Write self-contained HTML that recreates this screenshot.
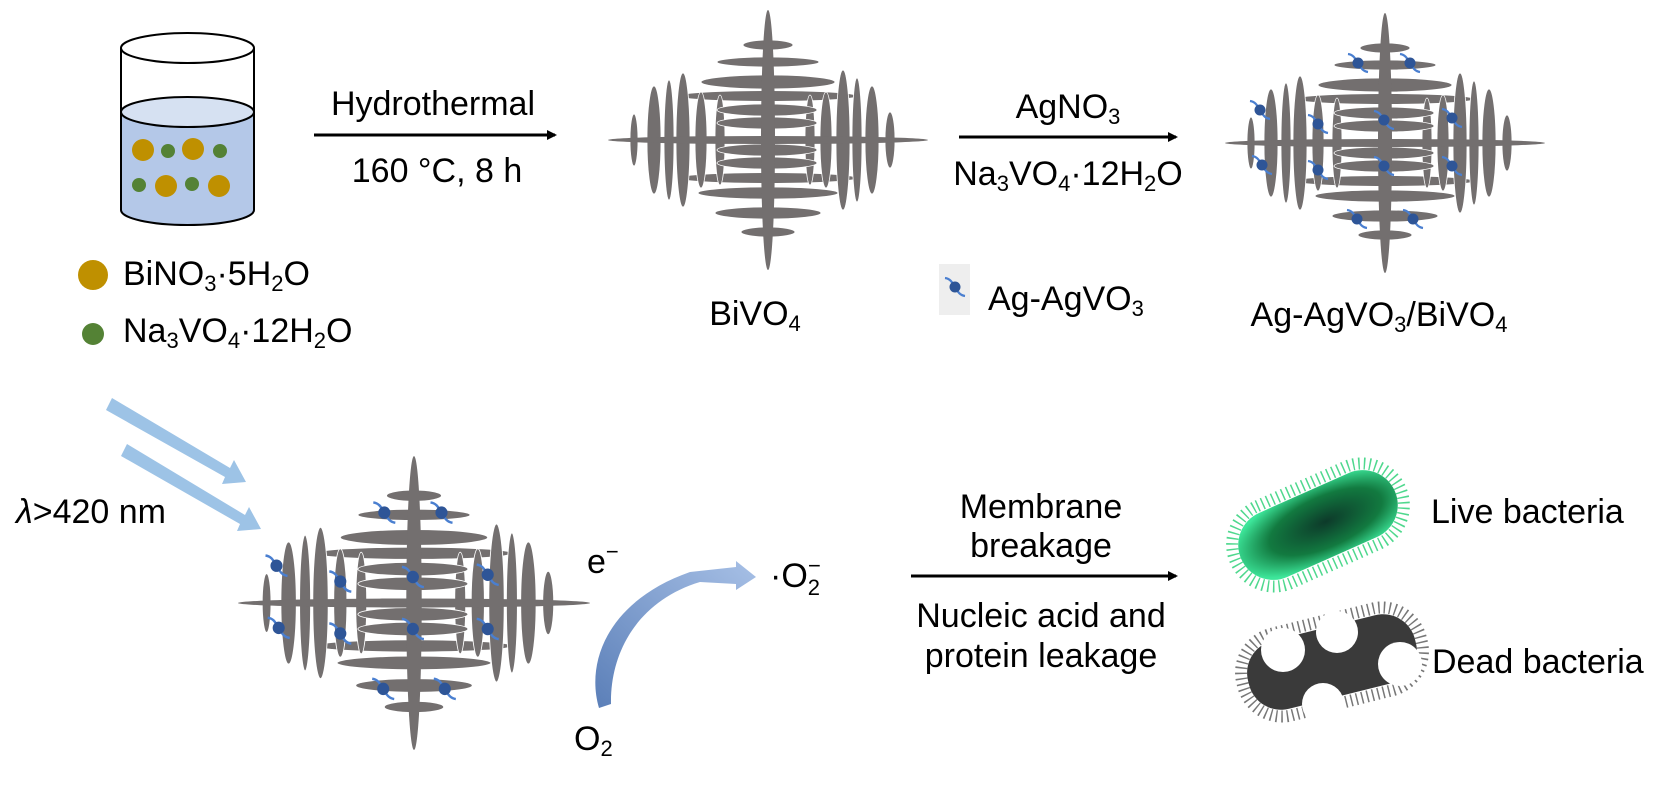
<!DOCTYPE html>
<html><head><meta charset="utf-8"><style>
html,body{margin:0;padding:0;background:#fff}
svg{display:block}
text{font-family:"Liberation Sans",Arial,sans-serif;fill:#000}
</style></head><body>
<svg width="1657" height="787" viewBox="0 0 1657 787" xmlns="http://www.w3.org/2000/svg">
<defs>
<marker id="ah" markerWidth="10" markerHeight="10" refX="8" refY="5" orient="auto" markerUnits="userSpaceOnUse"><path d="M0,0 L10,5 L0,10 Z" fill="#000"/></marker>
<g id="cr" fill="#736f6f">
  <ellipse cx="0" cy="-44" rx="88" ry="5"/>
  <ellipse cx="0" cy="38" rx="88" ry="5"/>
  <g stroke="#fff" stroke-width="0.8">
  <ellipse cx="-134" cy="0" rx="4" ry="26"/>
  <ellipse cx="-114" cy="0" rx="7" ry="54"/>
  <ellipse cx="-99" cy="0" rx="5" ry="60"/>
  <ellipse cx="-85" cy="0" rx="7" ry="67"/>
  <ellipse cx="-67" cy="0" rx="6" ry="48"/>
  <ellipse cx="-48" cy="0" rx="5" ry="45"/>
  <ellipse cx="42" cy="0" rx="5" ry="45"/>
  <ellipse cx="58" cy="0" rx="6" ry="48"/>
  <ellipse cx="75" cy="0" rx="7" ry="70"/>
  <ellipse cx="89" cy="0" rx="5" ry="62"/>
  <ellipse cx="104" cy="0" rx="7" ry="54"/>
  <ellipse cx="122" cy="0" rx="5" ry="28"/>
  <ellipse cx="0" cy="-95" rx="25" ry="5"/>
  <ellipse cx="0" cy="-78" rx="51" ry="5"/>
  <ellipse cx="0" cy="-58" rx="67" ry="7"/>
  <ellipse cx="-1" cy="-30" rx="50" ry="6"/>
  <ellipse cx="-1" cy="-17" rx="50" ry="6"/>
  <ellipse cx="-1" cy="10" rx="50" ry="6"/>
  <ellipse cx="-1" cy="23" rx="50" ry="6"/>
  <ellipse cx="0" cy="53" rx="70" ry="6"/>
  <ellipse cx="0" cy="73" rx="53" ry="6"/>
  <ellipse cx="0" cy="92" rx="27" ry="5"/>
  </g>
  <ellipse cx="0" cy="0" rx="160" ry="4"/>
  <ellipse cx="0" cy="0" rx="7" ry="130"/>
</g>
<g id="ag"><path d="M-10,-9 C-3,-8 -2,-2 0,0 C2,2 3,8 10,9" fill="none" stroke="#4a7fd0" stroke-width="2.2"/><circle r="5.5" fill="#2e5597"/></g>
<g id="dots">
  <use href="#ag" x="-27" y="-80"/><use href="#ag" x="25" y="-80"/>
  <use href="#ag" x="-125" y="-33"/><use href="#ag" x="-67" y="-19"/><use href="#ag" x="-1" y="-23"/><use href="#ag" x="67" y="-25"/>
  <use href="#ag" x="-123" y="22"/><use href="#ag" x="-67" y="27"/><use href="#ag" x="-1" y="23"/><use href="#ag" x="67" y="23"/>
  <use href="#ag" x="-28" y="76"/><use href="#ag" x="28" y="76"/>
</g>
<linearGradient id="cg" x1="0" y1="1" x2="1" y2="0"><stop offset="0" stop-color="#5b7fb8"/><stop offset="1" stop-color="#a7c0e6"/></linearGradient>
<radialGradient id="lg" cx="0.55" cy="0.5" r="0.6"><stop offset="0" stop-color="#0d3a2a"/><stop offset="0.6" stop-color="#127a40"/><stop offset="1" stop-color="#3de69a"/></radialGradient>
</defs>

<g stroke="#000" stroke-width="2">
  <path d="M121,112 L121,210 A66.5,15 0 0 0 254,210 L254,112 Z" fill="#b4c8e8"/>
  <ellipse cx="187.5" cy="112" rx="66.5" ry="15" fill="#d6e1f2"/>
  <path d="M121,48 L121,112 M254,48 L254,112" fill="none"/>
  <ellipse cx="187.5" cy="48" rx="66.5" ry="15" fill="#fff"/>
</g>
<g fill="#bf9000"><circle cx="143" cy="150" r="11"/><circle cx="193" cy="149" r="11"/><circle cx="166" cy="186" r="11"/><circle cx="219" cy="186" r="11"/></g>
<g fill="#548235"><circle cx="168" cy="151" r="7"/><circle cx="220" cy="151" r="7"/><circle cx="139" cy="185" r="7"/><circle cx="192" cy="184" r="7"/></g>

<circle cx="93" cy="275" r="15" fill="#bf9000"/>
<text x="123" y="285" font-size="34">BiNO<tspan font-size="22" dy="6">3</tspan><tspan dy="-6">·5H</tspan><tspan font-size="22" dy="6">2</tspan><tspan dy="-6">O</tspan></text>
<circle cx="93" cy="334" r="11" fill="#548235"/>
<text x="123" y="342" font-size="34">Na<tspan font-size="22" dy="6">3</tspan><tspan dy="-6">VO</tspan><tspan font-size="22" dy="6">4</tspan><tspan dy="-6">·12H</tspan><tspan font-size="22" dy="6">2</tspan><tspan dy="-6">O</tspan></text>

<line x1="314" y1="135" x2="555" y2="135" stroke="#000" stroke-width="3" marker-end="url(#ah)"/>
<text x="433" y="115" font-size="34" text-anchor="middle">Hydrothermal</text>
<text x="437" y="182" font-size="34" text-anchor="middle">160 °C, 8 h</text>

<use href="#cr" transform="translate(768,140)"/>
<text x="755" y="325" font-size="34" text-anchor="middle">BiVO<tspan font-size="22" dy="6">4</tspan></text>

<line x1="959" y1="137" x2="1176" y2="137" stroke="#000" stroke-width="3" marker-end="url(#ah)"/>
<text x="1068" y="118" font-size="34" text-anchor="middle">AgNO<tspan font-size="22" dy="6">3</tspan></text>
<text x="1068" y="185" font-size="34" text-anchor="middle">Na<tspan font-size="22" dy="6">3</tspan><tspan dy="-6">VO</tspan><tspan font-size="22" dy="6">4</tspan><tspan dy="-6">·12H</tspan><tspan font-size="22" dy="6">2</tspan><tspan dy="-6">O</tspan></text>

<rect x="939" y="264" width="31" height="51" fill="#eeeeee"/>
<use href="#ag" x="955" y="287"/>
<text x="988" y="310" font-size="34">Ag-AgVO<tspan font-size="22" dy="6">3</tspan></text>

<use href="#cr" transform="translate(1385,143)"/>
<use href="#dots" transform="translate(1385,143)"/>
<text x="1379" y="326" font-size="34" text-anchor="middle">Ag-AgVO<tspan font-size="22" dy="6">3</tspan><tspan dy="-6">/BiVO</tspan><tspan font-size="22" dy="6">4</tspan></text>

<g fill="#9dc3e6">
  <path d="M106,410 L112,398 L230,468 L234,460 L246,482 L222,484 L225,477 Z"/>
  <path d="M121,456 L127,444 L245,515 L249,507 L261,529 L237,531 L240,524 Z"/>
</g>
<text x="16" y="523" font-size="34"><tspan font-style="italic">λ</tspan>&gt;420 nm</text>

<use href="#cr" transform="translate(414,603) scale(1.1,1.13)"/>
<use href="#dots" transform="translate(414,603) scale(1.1,1.13)"/>

<path d="M599,708 C585,660 610,600 690,572 L736,567 L736,561 L756,577 L736,590 L736,584 L700,582 C640,600 610,650 611,704 Z" fill="url(#cg)"/>
<text x="587" y="573" font-size="34">e<tspan font-size="22" dy="-14">−</tspan></text>
<text x="574" y="750" font-size="34">O<tspan font-size="22" dy="6">2</tspan></text>
<text x="770" y="587" font-size="34">·O<tspan font-size="22" dy="8">2</tspan><tspan font-size="22" dx="-12" dy="-22">−</tspan></text>

<line x1="911" y1="576" x2="1176" y2="576" stroke="#000" stroke-width="3" marker-end="url(#ah)"/>
<g font-size="34" text-anchor="middle">
<text x="1041" y="518">Membrane</text>
<text x="1041" y="557">breakage</text>
<text x="1041" y="627">Nucleic acid and</text>
<text x="1041" y="667">protein leakage</text>
</g>

<g transform="translate(1318,525) rotate(-24)">
  <rect x="-90" y="-42" width="180" height="84" rx="42" fill="none" stroke="#4fd88e" stroke-width="12" stroke-dasharray="1.5 4"/>
  <rect x="-84" y="-35" width="168" height="70" rx="35" fill="url(#lg)"/>
</g>
<text x="1431" y="523" font-size="34">Live bacteria</text>

<g transform="translate(1332,662) rotate(-14)">
  <rect x="-92" y="-42" width="184" height="84" rx="40" fill="none" stroke="#777" stroke-width="12" stroke-dasharray="1.5 4"/>
  <rect x="-86" y="-35" width="172" height="70" rx="33" fill="#3a3a3a"/>
</g>
<g fill="#fff"><circle cx="1283" cy="650" r="22"/><circle cx="1337" cy="632" r="21"/><circle cx="1400" cy="664" r="22"/><circle cx="1323" cy="704" r="21"/></g>
<text x="1432" y="673" font-size="34">Dead bacteria</text>
</svg>
</body></html>
